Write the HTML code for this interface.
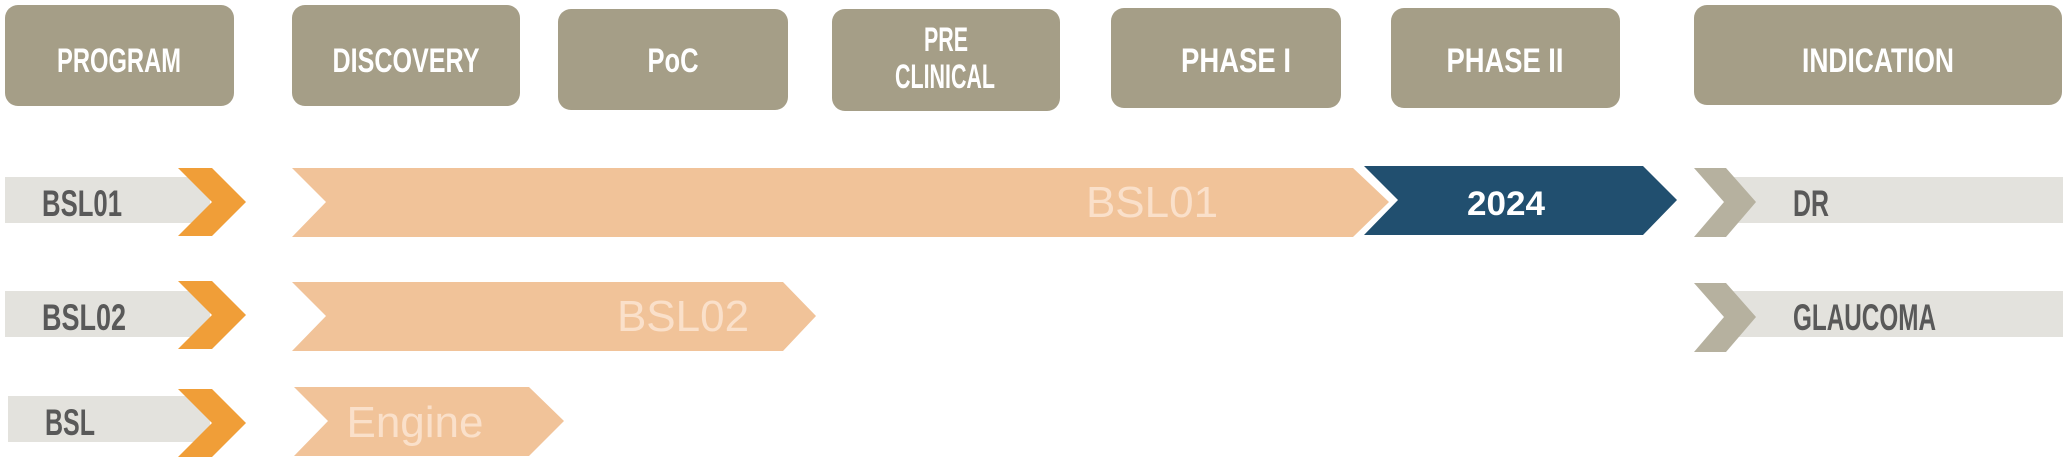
<!DOCTYPE html>
<html><head><meta charset="utf-8"><style>
html,body{margin:0;padding:0;background:#fff;}
svg{display:block;}
.h{font-family:"Liberation Sans Narrow","Liberation Sans",sans-serif;font-weight:bold;fill:#fff;font-size:34px;text-anchor:middle;}
.l{font-family:"Liberation Sans Narrow","Liberation Sans",sans-serif;font-weight:bold;fill:#595959;font-size:37px;}
.s{font-family:"Liberation Sans",sans-serif;fill:#fae0ca;font-size:44px;text-anchor:middle;}
</style></head><body>
<svg width="2070" height="462" viewBox="0 0 2070 462" xmlns="http://www.w3.org/2000/svg">
<g fill="#a59e87">
<rect x="5" y="5" width="229" height="101" rx="13"/>
<rect x="292" y="5" width="228" height="101" rx="13"/>
<rect x="558" y="9" width="230" height="101" rx="13"/>
<rect x="832" y="9" width="228" height="102" rx="13"/>
<rect x="1111" y="8" width="230" height="100" rx="13"/>
<rect x="1391" y="8" width="229" height="100" rx="13"/>
<rect x="1694" y="5" width="368" height="100" rx="13"/>
</g>
<text class="h" x="119" y="72" textLength="124" lengthAdjust="spacingAndGlyphs">PROGRAM</text>
<text class="h" x="406" y="72" textLength="147" lengthAdjust="spacingAndGlyphs">DISCOVERY</text>
<text class="h" x="673" y="72" textLength="51" lengthAdjust="spacingAndGlyphs">PoC</text>
<text class="h" x="946" y="51" font-size="28" textLength="44" lengthAdjust="spacingAndGlyphs">PRE</text>
<text class="h" x="945" y="88" font-size="28" textLength="100" lengthAdjust="spacingAndGlyphs">CLINICAL</text>
<text class="h" x="1236" y="72" textLength="110" lengthAdjust="spacingAndGlyphs">PHASE I</text>
<text class="h" x="1505" y="72" textLength="117" lengthAdjust="spacingAndGlyphs">PHASE II</text>
<text class="h" x="1878" y="72" textLength="152" lengthAdjust="spacingAndGlyphs">INDICATION</text>

<g fill="#e3e2dd">
<rect x="5" y="177" width="205" height="46"/>
<rect x="5" y="291" width="205" height="46"/>
<rect x="8" y="396" width="202" height="46"/>
<rect x="1725" y="177" width="338" height="46"/>
<rect x="1725" y="291" width="338" height="46"/>
</g>
<g fill="#f09e38">
<polygon points="178,168 212,168 246,202 212,236 178,236 212,202"/>
<polygon points="178,281 212,281 246,315 212,349 178,349 212,315"/>
<polygon points="178,389 212,389 246,423 212,457 178,457 212,423"/>
</g>
<g fill="#b6b19f">
<polygon points="1694,168 1726,168 1756,202 1726,237 1694,237 1724,202"/>
<polygon points="1694,283 1726,283 1756,317 1726,352 1694,352 1724,317"/>
</g>
<g fill="#f1c399">
<polygon points="292,168 1353,168 1389,202 1353,237 292,237 326,202"/>
<polygon points="292,282 783,282 816,316 783,351 292,351 326,316"/>
<polygon points="294,387 529,387 564,421 529,456 294,456 328,421"/>
</g>
<polygon fill="#214f6f" points="1364,166 1643,166 1677,200 1643,235 1364,235 1398,200"/>
<text class="l" x="42" y="216" textLength="80" lengthAdjust="spacingAndGlyphs">BSL01</text>
<text class="l" x="42" y="330" textLength="84" lengthAdjust="spacingAndGlyphs">BSL02</text>
<text class="l" x="45" y="435" textLength="50" lengthAdjust="spacingAndGlyphs">BSL</text>
<text class="l" x="1793" y="216" textLength="36" lengthAdjust="spacingAndGlyphs">DR</text>
<text class="l" x="1793" y="330" textLength="143" lengthAdjust="spacingAndGlyphs">GLAUCOMA</text>
<text class="h" x="1506" y="215" font-size="44" textLength="78" lengthAdjust="spacingAndGlyphs">2024</text>
<text class="s" x="1152" y="217">BSL01</text>
<text class="s" x="683" y="331">BSL02</text>
<text class="s" x="415" y="437">Engine</text>
</svg>
</body></html>
